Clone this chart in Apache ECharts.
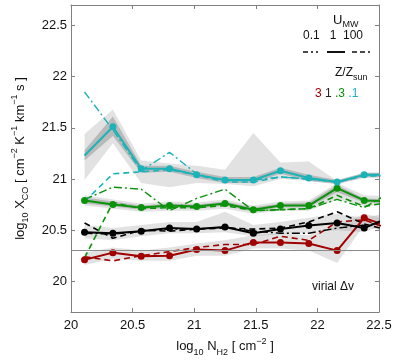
<!DOCTYPE html>
<html>
<head>
<meta charset="utf-8">
<script src="https://cdn.jsdelivr.net/npm/echarts@6/dist/echarts.min.js"></script>
<style>
  html, body { margin: 0; padding: 0; background: #fff; }
  #chart { width: 399px; height: 364px; }
</style>
</head>
<body>
<div id="chart"></div>
<script>
// column density bins (log10 N_H2)
var xVals = [20.11, 20.34, 20.57, 20.80, 21.02, 21.25, 21.48, 21.70, 21.93, 22.16, 22.38, 22.61];
var xTicks = [20, 20.5, 21, 21.5, 22, 22.5];
var yTicks = [20, 20.5, 21, 21.5, 22, 22.5];

// Z/Zsun = .1 (cyan)
var cyanSolid   = [21.23, 21.51, 21.10, 21.10, 21.04, 20.99, 20.99, 21.08, 21.01, 20.97, 21.04, 21.04];
var cyanDashDot = [21.85, 21.48, 21.08, 21.26, 21.05, 20.98, 20.99, 21.02, 21.00, 20.97, 21.04, 21.04];
var cyanDashed  = [20.78, 21.05, 21.07, 21.09, 21.04, 20.97, 20.97, 21.02, 21.00, 20.97, 21.03, 21.03];
// Z/Zsun = .3 (green)
var greenSolid   = [20.79, 20.75, 20.72, 20.74, 20.73, 20.76, 20.70, 20.74, 20.74, 20.91, 20.79, 20.78];
var greenDashDot = [20.80, 20.92, 20.90, 20.69, 20.81, 20.90, 20.69, 20.70, 20.71, 20.80, 20.72, 20.88];
var greenDashed  = [20.23, 20.77, 20.71, 20.72, 20.72, 20.74, 20.69, 20.70, 20.71, 20.84, 20.73, 20.78];
// Z/Zsun = 1 (black)
var blackSolid   = [20.48, 20.47, 20.49, 20.52, 20.51, 20.53, 20.47, 20.51, 20.545, 20.57, 20.52, 20.64];
var blackDashDot = [20.47, 20.46, 20.49, 20.51, 20.51, 20.53, 20.49, 20.47, 20.47, 20.52, 20.55, 20.58];
var blackDashed  = [20.57, 20.42, 20.50, 20.49, 20.51, 20.52, 20.51, 20.52, 20.58, 20.68, 20.56, 20.49];
// Z/Zsun = 3 (red)
var redSolid  = [20.21, 20.28, 20.245, 20.25, 20.31, 20.30, 20.38, 20.38, 20.37, 20.30, 20.62, 20.52];
var redDashed = [20.24, 20.20, 20.25, 20.29, 20.33, 20.36, 20.36, 20.44, 20.40, 20.58, 20.60, 20.50];

// scatter bands (lower / upper)
var cyanWideLo  = [20.99, 21.35, 20.96, 20.92, 20.96, 20.95, 20.93, 21.00, 20.98, 20.95, 21.01, 21.01];
var cyanWideHi  = [21.44, 21.68, 21.18, 21.15, 21.13, 21.09, 21.45, 21.16, 21.17, 20.98, 21.06, 21.06];
var cyanNarLo   = [21.18, 21.42, 21.06, 21.07, 21.01, 20.96, 20.96, 21.05, 20.98, 20.95, 21.02, 21.02];
var cyanNarHi   = [21.28, 21.61, 21.13, 21.13, 21.07, 21.02, 21.02, 21.11, 21.04, 20.99, 21.06, 21.06];
var greenWideLo = [20.74, 20.71, 20.68, 20.69, 20.69, 20.71, 20.66, 20.69, 20.69, 20.80, 20.74, 20.74];
var greenWideHi = [20.84, 20.80, 20.76, 20.78, 20.77, 20.80, 20.74, 20.78, 20.79, 20.96, 20.84, 20.83];
var greenNarLo  = [20.76, 20.73, 20.70, 20.72, 20.71, 20.74, 20.68, 20.72, 20.72, 20.87, 20.77, 20.76];
var greenNarHi  = [20.82, 20.78, 20.74, 20.76, 20.75, 20.78, 20.72, 20.76, 20.77, 20.94, 20.81, 20.80];
var blackWideLo = [20.42, 20.40, 20.44, 20.47, 20.47, 20.48, 20.44, 20.46, 20.48, 20.50, 20.48, 20.58];
var blackWideHi = [20.55, 20.52, 20.55, 20.58, 20.58, 20.68, 20.55, 20.58, 20.62, 20.66, 20.62, 20.68];
var redWideLo   = [20.16, 20.22, 20.20, 20.20, 20.25, 20.25, 20.32, 20.32, 20.30, 20.18, 20.55, 20.45];
var redWideHi   = [20.28, 20.33, 20.30, 20.33, 20.37, 20.40, 20.45, 20.47, 20.45, 20.55, 20.66, 20.60];

var virial = 20.3;

var RED = '#a00000', BLACK = '#000000', GREEN = '#0a930a', CYAN = '#1bb3b8';
var DASHDOT = [8, 3, 2, 3], DASHED = [6, 4];
var FONT = 'Liberation Sans, Arial, sans-serif';

function pairs(ys) {
    return xVals.map(function(x, i) { return [x, ys[i]]; });
}

// filled polygon between lo and hi, drawn through the axes
function band(lo, hi, color) {
    var data = xVals.map(function(x, i) { return [x, lo[i], hi[i]]; });
    return {
        type: 'custom', silent: true, z: 1, clip: true,
        data: data, encode: { x: 0, y: [1, 2] },
        renderItem: function(params, api) {
            if (params.dataIndex !== 0) return;
            var pts = [];
            data.forEach(function(d) { pts.push(api.coord([d[0], d[2]])); });
            data.slice().reverse().forEach(function(d) { pts.push(api.coord([d[0], d[1]])); });
            return { type: 'polygon', shape: { points: pts }, style: { fill: color } };
        }
    };
}

function line(ys, color, dash, width, marker) {
    return {
        type: 'line', data: pairs(ys), color: color,
        symbol: marker ? 'circle' : 'none', symbolSize: 7,
        showSymbol: !!marker, showAllSymbol: true,
        lineStyle: { color: color, width: width, type: dash || 'solid' },
        itemStyle: { color: color }, z: marker ? 4 : 3, clip: true
    };
}

var LIGHT = 'rgba(150,150,150,0.28)', DARK = 'rgba(110,110,110,0.35)';

var series = [
    band(cyanWideLo, cyanWideHi, LIGHT),
    band(cyanNarLo, cyanNarHi, DARK),
    band(greenWideLo, greenWideHi, LIGHT),
    band(greenNarLo, greenNarHi, DARK),
    band(blackWideLo, blackWideHi, LIGHT),
    band(redWideLo, redWideHi, LIGHT)
];

var cyanMain = line(cyanSolid, CYAN, null, 2, true);
cyanMain.data[0] = { value: cyanMain.data[0], symbol: 'none' };
cyanMain.markLine = {
    silent: true, symbol: 'none', label: { show: false },
    lineStyle: { color: '#8c8c8c', width: 1.2, type: 'solid' },
    data: [{ yAxis: virial }]
};

series.push(
    line(redDashed, RED, DASHED, 1.6),
    line(blackDashDot, BLACK, DASHDOT, 1.4),
    line(blackDashed, BLACK, DASHED, 1.6),
    line(greenDashDot, GREEN, DASHDOT, 1.4),
    line(greenDashed, GREEN, DASHED, 1.6),
    line(cyanDashDot, CYAN, DASHDOT, 1.4),
    line(cyanDashed, CYAN, DASHED, 1.6),
    line(redSolid, RED, null, 2, true),
    line(blackSolid, BLACK, null, 2, true),
    line(greenSolid, GREEN, null, 2, true),
    cyanMain
);

var axisLine = { show: true, lineStyle: { color: '#808080', width: 1 } };
var tick = { show: true, inside: true, length: 4, lineStyle: { color: '#808080' } };
var labelStyle = { color: '#111', fontSize: 13, fontFamily: FONT };
var rich = {
    sub: { fontSize: 9, lineHeight: 9, verticalAlign: 'bottom', fontFamily: FONT, color: '#111', fill: '#111' },
    sup: { fontSize: 9, lineHeight: 9, verticalAlign: 'top', fontFamily: FONT, color: '#111', fill: '#111' }
};

var chart = echarts.init(document.getElementById('chart'), null, { renderer: 'canvas' });

var option = {
    animation: false,
    grid: { left: 71, right: 20, top: 5, bottom: 52, containLabel: false },
    xAxis: [{
        type: 'value', min: 20, max: 22.5, interval: 0.5,
        axisLine: axisLine, axisTick: tick, splitLine: { show: false },
        axisLabel: Object.assign({ margin: 7, customValues: xTicks, formatter: function(v) { return String(v); } }, labelStyle),
        name: 'log{sub|10} N{sub|H2} [ cm{sup|−2} ]', nameLocation: 'middle', nameGap: 22,
        nameTextStyle: { fontSize: 13, fontFamily: FONT, color: '#111', lineHeight: 20, rich: rich }
    }, {
        type: 'value', position: 'top', min: 20, max: 22.5, interval: 0.5,
        axisLine: axisLine, axisTick: tick, axisLabel: { show: false }, splitLine: { show: false }
    }],
    yAxis: [{
        type: 'value', min: 19.7, max: 22.7,
        axisLine: axisLine, splitLine: { show: false },
        axisTick: Object.assign({ customValues: yTicks }, tick),
        axisLabel: Object.assign({ margin: 4, customValues: yTicks, formatter: function(v) { return String(v); } }, labelStyle),
        name: 'log{sub|10} X{sub|CO} [ cm{sup|−2} K{sup|−1} km{sup|−1} s ]',
        nameLocation: 'middle', nameGap: 41, nameRotate: 90,
        nameTextStyle: { fontSize: 13, fontFamily: FONT, color: '#111', lineHeight: 20, rich: rich }
    }, {
        type: 'value', position: 'right', min: 19.7, max: 22.7,
        axisLine: axisLine, splitLine: { show: false },
        axisTick: Object.assign({ customValues: yTicks }, tick),
        axisLabel: { show: false }
    }],
    graphic: [
        { type: 'text', left: 333, top: 11, style: { text: 'U{sub|MW}', fontSize: 13, fontFamily: FONT, fill: '#111', lineHeight: 18, rich: rich } },
        { type: 'text', left: 303, top: 30, style: { text: '0.1   1  100', fontSize: 12, fontFamily: FONT, fill: '#111' } },
        { type: 'line', shape: { x1: 303, y1: 52, x2: 318, y2: 52 }, style: { stroke: '#111', lineWidth: 1.6, lineDash: [5, 3, 2, 3] } },
        { type: 'line', shape: { x1: 327, y1: 52, x2: 345, y2: 52 }, style: { stroke: '#111', lineWidth: 2 } },
        { type: 'line', shape: { x1: 352, y1: 52, x2: 370, y2: 52 }, style: { stroke: '#111', lineWidth: 1.6, lineDash: [5, 3] } },
        { type: 'text', left: 335, top: 64, style: { text: 'Z/Z{sub|sun}', fontSize: 12, fontFamily: FONT, fill: '#111', lineHeight: 18, rich: rich } },
        { type: 'text', left: 315, top: 88, style: {
            text: '{r|3} {k|1} {g|.3} {c|.1}', fontSize: 12, fontFamily: FONT, fill: '#222',
            rich: {
                r: { fill: RED, fontSize: 12, fontFamily: FONT },
                k: { fill: '#222', fontSize: 12, fontFamily: FONT },
                g: { fill: GREEN, fontSize: 12, fontFamily: FONT },
                c: { fill: CYAN, fontSize: 12, fontFamily: FONT }
            }
        } },
        { type: 'text', left: 312, top: 281, style: { text: 'virial Δv', fontSize: 12, fontFamily: FONT, fill: '#111' } }
    ],
    series: series
};

chart.setOption(option);
</script>
</body>
</html>
